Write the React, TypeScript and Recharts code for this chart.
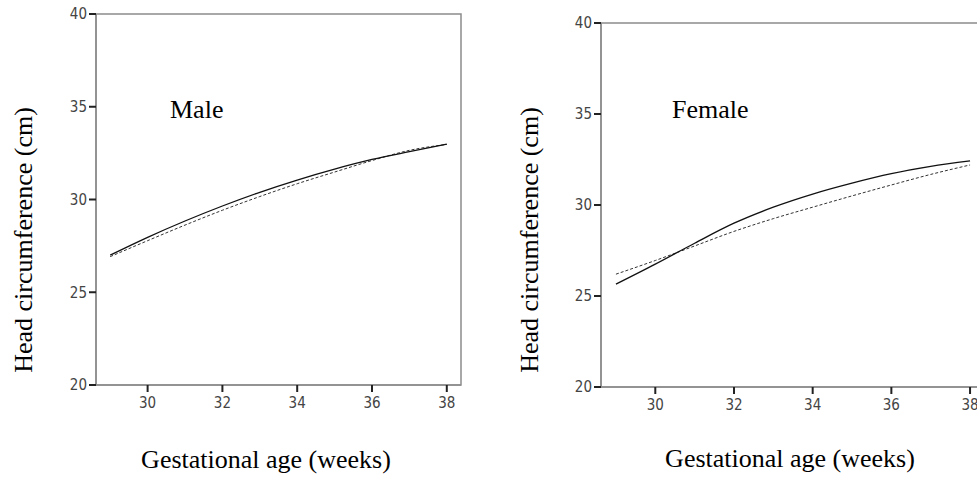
import React from "react";
import {Line, LineChart, ReferenceArea, XAxis, YAxis} from "recharts";

// gestational age (weeks) and head circumference (cm)
const weeks = [29, 30, 31, 32, 33, 34, 35, 36, 37, 38];
const maleSolid = [27.0, 27.96, 28.84, 29.65, 30.39, 31.05, 31.64, 32.16, 32.58, 32.98];
const maleDashed = [26.92, 27.78, 28.62, 29.42, 30.16, 30.85, 31.48, 32.1, 32.65, 32.97];
const femaleSolid = [25.65, 26.75, 27.9, 29.0, 29.88, 30.6, 31.2, 31.72, 32.12, 32.42];
const femaleDashed = [26.2, 26.95, 27.75, 28.55, 29.25, 29.88, 30.5, 31.1, 31.68, 32.2];

const xTicks = [30, 32, 34, 36, 38];
const yTicks = [20, 25, 30, 35, 40];
const xDomain: [number, number] = [28.62, 38.38];
const yDomain: [number, number] = [20, 40];

const toRows = (solid: number[], dashed: number[]) =>
  weeks.map((week, i) => ({week, solid: solid[i], dashed: dashed[i]}));

const tickFont = {
  fontFamily: '"Liberation Sans Narrow", "DejaVu Sans Condensed", "Roboto Condensed", "Liberation Sans", sans-serif',
  fontSize: 15,
  fill: "#444",
};
const serif = '"Liberation Serif", "DejaVu Serif", serif';

type PanelProps = {
  data: {week: number; solid: number; dashed: number}[];
  width: number;
  margin: {top: number; right: number; left: number; bottom: number};
};

const Panel: React.FC<PanelProps> = ({data, width, margin}) => (
  <LineChart width={width} height={477} data={data} margin={margin}>
    <XAxis dataKey="week" type="number" domain={xDomain} ticks={xTicks} allowDataOverflow
           height={30} tickSize={7} tickMargin={5} tick={tickFont}
           axisLine={{stroke: "#8c8c8c", strokeWidth: 1.5}} tickLine={{stroke: "#222", strokeWidth: 2}}/>
    <YAxis type="number" domain={yDomain} ticks={yTicks} allowDataOverflow
           width={40} tickSize={7} tickMargin={2} tick={tickFont}
           axisLine={{stroke: "#8c8c8c", strokeWidth: 1.5}} tickLine={{stroke: "#222", strokeWidth: 2}}/>
    <ReferenceArea x1={xDomain[0]} x2={xDomain[1]} y1={yDomain[0]} y2={yDomain[1]}
                   fill="none" stroke="#8c8c8c" strokeWidth={1.5}/>
    <Line type="monotone" dataKey="dashed" stroke="#333" strokeWidth={1} strokeDasharray="3 2"
          dot={false} isAnimationActive={false}/>
    <Line type="monotone" dataKey="solid" stroke="#111" strokeWidth={1.3}
          dot={false} isAnimationActive={false}/>
  </LineChart>
);

export default function App() {
  return (
    <div style={{position: "absolute", left: 0, top: 0, width: 977, height: 477, overflow: "hidden", background: "#fff"}}>
      <div style={{position: "absolute", left: 0, top: 0}}>
        <Panel data={toRows(maleSolid, maleDashed)} width={480}
               margin={{top: 14, right: 19, left: 56, bottom: 62}}/>
      </div>
      <div style={{position: "absolute", left: 490, top: 0}}>
        <Panel data={toRows(femaleSolid, femaleDashed)} width={510}
               margin={{top: 23, right: 15, left: 71, bottom: 60}}/>
      </div>
      <svg width={977} height={477} style={{position: "absolute", left: 0, top: 0, pointerEvents: "none"}}>
        <g fontFamily={serif} fontSize={26} fill="#000" style={{whiteSpace: "pre"}}>
          <text x={170} y={118}>Male</text>
          <text x={672} y={118}>Female</text>
          <text x={266} y={468} textAnchor="middle">Gestational age (weeks)</text>
          <text x={790} y={467} textAnchor="middle">Gestational age (weeks)</text>
          <text x={32} y={240} textAnchor="middle" transform="rotate(-90 32 240)">Head circumference  (cm)</text>
          <text x={538} y={240} textAnchor="middle" transform="rotate(-90 538 240)">Head circumference  (cm)</text>
        </g>
      </svg>
    </div>
  );
}
